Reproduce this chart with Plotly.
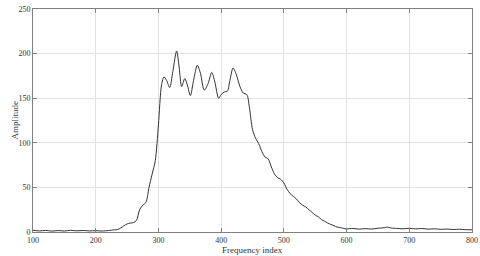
import plotly.graph_objects as go

freq_index = [100, 110, 120, 130, 140, 150, 160, 170, 180, 190, 200, 210, 220, 225, 230, 235, 240, 245,
              250, 255, 260, 265, 270, 275, 280, 285, 290, 295, 300, 305, 309, 313, 318, 323, 329, 333,
              337, 342, 346, 351, 356, 362, 367, 373, 379, 385, 390, 396, 400, 405, 410, 414, 419, 424,
              430, 435, 441, 445, 450, 455, 460, 465, 470, 475, 480, 485, 490, 495, 500, 505, 510, 515,
              520, 525, 530, 535, 540, 545, 550, 555, 560, 565, 570, 575, 580, 585, 590, 595, 600,
              610, 620, 630, 640, 650, 660, 665, 670, 680, 690, 700, 710, 720, 730, 740, 750, 760,
              770, 780, 790, 800]
amplitude = [2.0, 1.2, 1.8, 1.0, 1.6, 1.1, 1.9, 1.3, 1.7, 1.2, 1.5, 1.1, 1.6, 2.0, 2.5, 2.8, 4.5, 7.0,
             9.0, 10.0, 10.5, 13.0, 25.0, 30.0, 33.0, 50.0, 65.0, 80.0, 120.0, 165.0, 174.0, 170.0, 162.0, 180.0, 203.0, 185.0,
             163.0, 172.0, 165.0, 153.0, 170.0, 187.0, 178.0, 159.0, 166.0, 179.0, 168.0, 150.0, 154.0, 157.0, 158.0, 170.0, 184.0, 177.0,
             163.0, 156.0, 154.0, 140.0, 115.0, 105.0, 99.0, 90.0, 84.0, 82.0, 73.0, 65.0, 61.0, 59.0, 55.0, 48.0, 43.0, 40.0,
             37.0, 33.0, 30.0, 28.0, 25.0, 22.0, 19.0, 17.0, 14.0, 12.0, 10.0, 8.5, 7.0, 5.5, 5.0, 4.0, 3.5,
             4.0, 3.2, 3.8, 3.3, 4.2, 4.8, 5.5, 4.6, 4.0, 3.6, 4.2, 3.5, 3.9, 3.2, 3.6, 3.0, 3.3,
             2.8, 3.1, 2.6, 2.5]

x_ticks = [100, 200, 300, 400, 500, 600, 700, 800]
y_ticks = [0, 50, 100, 150, 200, 250]

fig = go.Figure(go.Scatter(x=freq_index, y=amplitude, mode="lines",
                           line=dict(color="#333333", width=1, shape="spline", smoothing=0.8),
                           hoverinfo="skip"))

axis_common = dict(showline=True, linecolor="#808080", linewidth=1, mirror="ticks",
                   ticks="inside", ticklen=4, tickcolor="#808080", automargin=False,
                   showgrid=True, gridcolor="#e2e2e2", gridwidth=1, zeroline=False,
                   tickfont=dict(family="Liberation Serif", size=8, color="#333333"))

fig.update_xaxes(range=[100, 800], tickvals=x_ticks, ticklabelstandoff=0, **axis_common)
fig.update_yaxes(range=[0, 250], tickvals=y_ticks, **axis_common)

title_font = dict(family="Liberation Serif", size=9, color="#333333")
fig.add_annotation(text="Frequency index", xref="paper", yref="paper", x=0.5, y=0,
                   yshift=-18, xanchor="center", yanchor="middle", showarrow=False, font=title_font)
fig.add_annotation(text="Amplitude", xref="paper", yref="paper", x=0, y=0.5,
                   xshift=-19, xanchor="center", yanchor="middle", textangle=-90,
                   showarrow=False, font=title_font)

fig.update_layout(width=480, height=256, margin=dict(l=33, r=8, t=9, b=24),
                  paper_bgcolor="white", plot_bgcolor="white", showlegend=False)

fig.write_html("out.html", config={"displayModeBar": False, "staticPlot": True},
               post_script="document.body.style.margin='0';")
